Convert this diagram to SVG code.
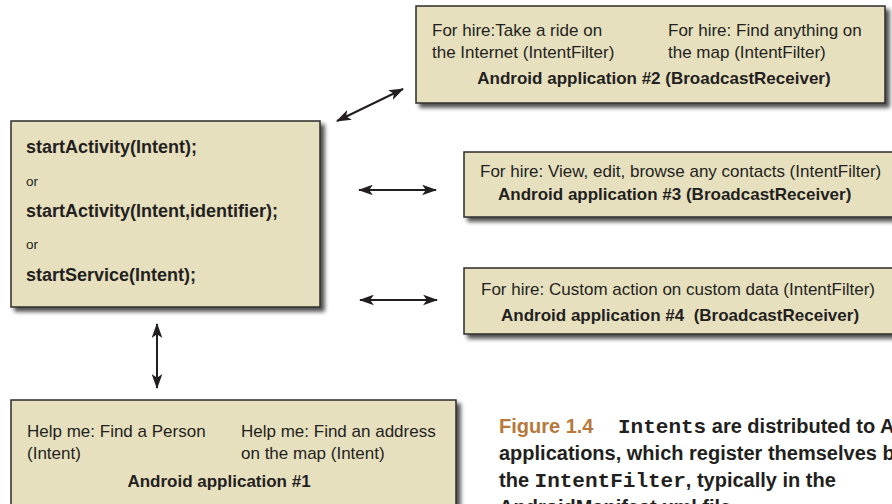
<svg xmlns="http://www.w3.org/2000/svg" width="892" height="504" viewBox="0 0 892 504">
<defs>
<filter id="sh" x="-10%" y="-20%" width="125%" height="150%">
<feGaussianBlur in="SourceAlpha" stdDeviation="2.2"/>
<feOffset dx="4" dy="4" result="b"/>
<feComponentTransfer><feFuncA type="linear" slope="0.7"/></feComponentTransfer>
<feMerge><feMergeNode/><feMergeNode in="SourceGraphic"/></feMerge>
</filter>
<marker id="ah" viewBox="0 0 14 10" refX="13" refY="5" markerWidth="15" markerHeight="11" markerUnits="userSpaceOnUse" orient="auto-start-reverse">
<path d="M0,0 L14,5 L0,10 L3.5,5 z" fill="#231f20"/>
</marker>
</defs>
<style>
.box{fill:#e7e0bf;stroke:#2b2b2b;stroke-width:1.5}
.t{font-family:"Liberation Sans",Arial,sans-serif;font-size:17px;fill:#231f20}
.b{font-family:"Liberation Sans",Arial,sans-serif;font-size:17px;font-weight:bold;fill:#231f20}
.mb{font-family:"Liberation Sans",Arial,sans-serif;font-size:18px;font-weight:bold;fill:#231f20}
.or{font-family:"Liberation Sans",Arial,sans-serif;font-size:13.5px;fill:#231f20}
.cap{font-family:"Liberation Sans",Arial,sans-serif;font-size:20px;font-weight:bold;fill:#231f20}
.mono{font-family:"Liberation Mono","Courier New",monospace;font-size:21px;font-weight:bold}
.fig{fill:#b7783b}
.arr{stroke:#231f20;stroke-width:2;fill:none;marker-start:url(#ah);marker-end:url(#ah)}
</style>

<g id="app2">
<rect class="box" x="416" y="6" width="469" height="97" filter="url(#sh)"/>
<text class="t" x="432" y="36">For hire:Take a ride on</text>
<text class="t" x="432" y="58">the Internet (IntentFilter)</text>
<text class="t" x="668" y="36">For hire:  Find anything on</text>
<text class="t" x="668" y="58">the map (IntentFilter)</text>
<text class="b" x="654" y="84" text-anchor="middle">Android application #2 (BroadcastReceiver)</text>
</g>

<g id="caller">
<rect class="box" x="11" y="121" width="309" height="186" filter="url(#sh)"/>
<text class="mb" x="26" y="153">startActivity(Intent);</text>
<text class="or" x="26" y="186">or</text>
<text class="mb" x="26" y="217">startActivity(Intent,identifier);</text>
<text class="or" x="26" y="249">or</text>
<text class="mb" x="26" y="281">startService(Intent);</text>
</g>

<g id="app3">
<rect class="box" x="464" y="152" width="440" height="65" filter="url(#sh)"/>
<text class="t" x="480" y="177">For hire:  View, edit, browse any contacts (IntentFilter)</text>
<text class="b" x="498" y="200">Android application #3 (BroadcastReceiver)</text>
</g>

<g id="app4">
<rect class="box" x="464" y="268" width="440" height="66" filter="url(#sh)"/>
<text class="t" x="481" y="295">For hire:  Custom action on custom data (IntentFilter)</text>
<text class="b" x="501" y="321">Android application #4&#160;&#160;(BroadcastReceiver)</text>
</g>

<g id="app1">
<rect class="box" x="11" y="400" width="445" height="120" filter="url(#sh)"/>
<text class="t" x="27" y="437">Help me:  Find a Person</text>
<text class="t" x="27" y="459">(Intent)</text>
<text class="t" x="241" y="437">Help me:  Find an address</text>
<text class="t" x="241" y="459">on the map (Intent)</text>
<text class="b" x="219" y="487" text-anchor="middle">Android application #1</text>
</g>

<g id="connectors">
<line class="arr" x1="337" y1="121" x2="403" y2="89"/>
<line class="arr" x1="359" y1="190" x2="436" y2="190"/>
<line class="arr" x1="360" y1="300" x2="437" y2="300"/>
<line class="arr" x1="157" y1="324" x2="157" y2="388"/>
</g>

<g id="caption">
<text class="cap" y="433"><tspan class="fig" x="499">Figure 1.4</tspan><tspan class="mono" x="618">Intents</tspan><tspan> are distributed to Android</tspan></text>
<text class="cap" x="499" y="460">applications, which register themselves by</text>
<text class="cap" y="487"><tspan x="499">the </tspan><tspan class="mono">IntentFilter</tspan><tspan>, typically in the</tspan></text>
<text class="cap" x="499" y="514">AndroidManifest.xml file.</text>
</g>
</svg>
